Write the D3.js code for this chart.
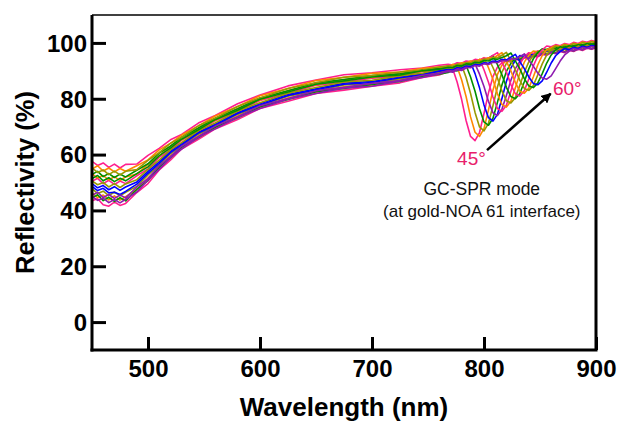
<!DOCTYPE html>
<html><head><meta charset="utf-8">
<script src="https://cdn.jsdelivr.net/npm/d3@7/dist/d3.min.js"></script>
<style>
html,body{margin:0;padding:0;background:#fff;}
svg{display:block;font-family:"Liberation Sans",Arial,Helvetica,sans-serif;}
</style></head>
<body>
<svg id="chart" width="618" height="425"></svg>
<script>
// ---- data ----
const wavelengths = [450,455,460,465,470,475,480,490,500,510,520,530,545,560,580,600,625,650,675,700,725,745,760,768,772,776,780,784,788,792,796,800,804,808,812,816,820,824,828,832,836,840,844,848,852,856,860,864,868,872,876,880,884,888,892,896,900];
const angles = [45,46,47,48,49,50,51,52,53,54,55,56,57,58,59,60];
const r45 = [43.5,44.2,42.0,41.5,43.0,41.8,42.5,46.4,49.6,54.5,58.0,62.0,65.5,69.2,72.6,76.5,79.1,81.9,83.1,84.5,85.7,87.6,88.5,89.8,90.8,86.0,79.8,72.2,66.5,65.0,67.9,74.7,82.1,87.9,91.3,92.9,93.5,93.2,94.1,93.8,94.7,94.4,95.3,95.0,95.9,95.6,96.5,96.1,96.9,96.5,97.4,96.9,97.7,97.3,98.1,97.7,98.2];
const r46 = [46.3,44.6,45.5,43.8,45.2,43.7,44.9,47.4,51.6,55.3,59.5,62.4,66.7,69.6,73.8,76.9,80.3,82.3,84.3,84.9,86.8,87.9,89.3,89.9,90.5,91.5,86.8,80.8,73.5,68.0,66.5,69.3,76.0,83.1,88.7,92.0,93.9,93.6,94.5,94.2,95.1,94.8,95.7,95.4,96.3,96.0,96.9,96.5,97.3,96.9,97.7,97.3,98.1,97.7,98.5,98.0,98.6];
const r47 = [47.8,46.1,46.9,45.3,46.6,45.2,46.5,48.6,52.7,56.2,60.3,63.0,67.3,70.2,74.4,77.5,80.9,82.8,84.9,85.4,87.2,88.3,89.7,90.3,90.0,91.1,92.1,87.6,81.9,75.1,69.9,68.5,71.2,77.5,84.2,89.5,92.7,94.5,94.2,95.1,94.8,95.7,95.4,96.3,96.0,96.9,96.6,97.4,97.0,97.8,97.4,98.2,97.8,98.6,98.2,98.9,98.5];
const r48 = [44.4,45.6,43.5,44.7,43.2,44.6,43.4,47.6,50.7,55.5,58.8,62.6,66.1,69.8,73.2,77.1,79.7,82.5,83.7,85.1,86.2,88.1,88.8,89.4,90.2,90.0,91.0,92.0,87.8,82.7,76.4,71.7,70.5,73.0,78.7,84.9,89.8,92.7,94.4,94.1,95.0,94.7,95.6,95.3,96.2,95.9,96.8,96.4,97.2,96.8,97.6,97.2,98.0,97.6,98.4,97.9,98.5];
const r49 = [49.6,48.1,48.9,47.4,48.5,47.2,48.4,50.2,54.0,57.4,61.2,63.9,68.1,70.9,75.1,78.2,81.6,83.6,85.6,86.2,87.9,88.9,90.1,90.7,90.4,91.3,91.0,92.1,93.1,89.0,83.9,77.8,73.2,72.0,74.4,80.1,86.2,91.0,93.8,95.5,95.2,96.1,95.8,96.7,96.4,97.3,97.0,97.8,97.4,98.2,97.8,98.6,98.2,99.0,98.6,99.3,99.0];
const r50 = [45.1,43.6,44.4,42.8,43.9,42.7,44.0,46.6,50.9,54.7,58.9,62.0,66.3,69.2,73.4,76.5,79.9,81.9,83.9,84.5,86.4,87.6,89.0,89.8,89.5,90.4,90.1,91.0,91.5,92.5,88.8,84.4,79.0,75.0,74.0,76.2,81.2,86.6,90.8,93.4,94.9,94.6,95.5,95.2,96.1,95.8,96.7,96.3,97.1,96.7,97.5,97.1,97.9,97.5,98.3,97.8,98.4];
const r51 = [50.4,51.5,49.6,50.8,49.3,50.5,49.6,52.4,54.9,59.0,61.8,65.1,68.5,72.1,75.5,79.4,82.0,84.8,86.0,87.4,88.1,89.8,90.3,91.1,90.9,91.7,91.5,92.2,92.1,93.1,94.1,90.4,85.9,80.6,76.5,75.5,77.7,82.7,88.1,92.4,95.0,96.5,96.2,97.1,96.8,97.7,97.4,98.2,97.8,98.6,98.2,99.0,98.6,99.4,99.0,99.7,99.3];
const r52 = [53.2,51.6,52.5,50.9,52.1,50.7,52.0,53.0,56.5,59.5,63.0,65.3,69.5,72.3,76.4,79.6,82.9,85.0,86.9,87.6,89.0,89.8,91.0,91.4,91.2,92.0,91.8,92.6,92.4,93.1,93.7,94.7,91.1,86.9,81.8,78.0,77.0,79.1,83.9,89.1,93.1,95.6,97.1,96.8,97.7,97.4,98.3,97.9,98.7,98.3,99.1,98.7,99.5,99.1,99.9,99.4,99.9];
const r53 = [50.6,49.2,50.0,48.4,49.6,48.2,49.5,51.0,54.7,58.0,61.7,64.3,68.5,71.3,75.5,78.6,82.0,84.0,86.0,86.6,88.2,89.1,90.4,90.9,90.7,91.5,91.3,92.1,91.9,92.6,92.5,93.5,94.5,91.2,87.4,82.8,79.3,78.5,80.4,84.8,89.5,93.2,95.5,96.9,96.6,97.5,97.2,98.0,97.6,98.4,98.0,98.8,98.4,99.2,98.8,99.5,99.2];
const r54 = [52.9,54.0,52.1,53.2,51.8,53.0,52.0,54.4,56.7,60.5,63.0,66.2,69.5,73.0,76.4,80.3,82.9,85.7,86.9,88.3,88.9,90.4,90.9,91.6,91.4,92.2,92.0,92.8,92.6,93.4,93.2,93.9,94.5,95.5,92.2,88.6,84.1,80.8,80.0,81.9,86.1,90.7,94.3,96.5,97.9,97.6,98.5,98.1,98.9,98.5,99.3,98.9,99.7,99.3,100.1,99.6,99.8];
const r55 = [57.6,56.1,57.0,55.4,56.6,55.2,56.5,56.6,59.7,62.2,65.3,67.2,71.3,74.0,78.2,81.3,84.6,86.7,88.6,89.3,90.4,91.0,92.0,92.3,92.1,92.9,92.7,93.5,93.3,94.1,93.9,94.6,94.5,95.5,96.5,93.2,89.6,85.1,81.8,81.0,82.9,87.1,91.7,95.3,97.5,98.9,98.6,99.4,99.0,99.8,99.4,100.2,99.8,100.6,100.2,100.9,100.5];
const r56 = [54.8,56.0,54.1,55.2,53.8,55.0,54.0,56.0,58.1,61.7,64.0,67.0,70.3,73.8,77.2,81.1,83.7,86.5,87.7,89.1,89.6,90.9,91.4,91.5,92.3,92.1,92.9,92.7,93.5,93.3,94.1,93.9,94.7,94.5,95.5,96.5,93.4,90.0,85.8,82.7,82.0,83.8,87.8,92.1,95.5,97.6,98.3,99.1,98.7,99.5,99.1,99.9,99.5,100.3,99.9,100.6,100.2];
const r57 = [55.2,53.6,54.5,52.8,54.1,52.7,54.0,54.6,57.9,60.7,64.0,66.2,70.3,73.0,77.2,80.3,83.7,85.7,87.7,88.3,89.6,90.3,91.4,91.8,91.6,92.4,92.2,93.0,92.8,93.6,93.4,94.2,94.0,94.8,94.6,95.6,96.6,93.6,90.4,86.6,83.7,83.0,84.7,88.5,92.5,95.7,97.7,98.9,98.5,99.3,98.9,99.7,99.3,100.1,99.7,100.4,100.0];
const r58 = [51.4,52.5,50.6,51.7,50.3,51.5,50.6,53.2,55.6,59.6,62.3,65.5,68.9,72.5,75.9,79.8,82.4,85.2,86.4,87.8,88.5,90.0,90.6,91.3,91.1,91.9,91.7,92.5,92.3,93.1,92.9,93.7,93.5,94.3,94.1,94.8,95.4,96.4,93.6,90.7,87.2,84.6,84.0,85.6,89.0,92.8,95.7,97.5,98.6,98.2,99.0,98.6,99.4,99.0,99.8,99.3,99.6];
const r59 = [48.6,47.1,47.9,46.3,46.5,45.7,46.8,49.4,53.3,56.8,60.7,63.5,67.7,70.5,74.7,77.8,81.2,83.2,85.2,85.8,87.5,88.6,89.9,90.5,90.3,91.1,90.9,91.7,91.5,92.3,92.1,92.9,92.7,93.5,93.3,94.1,93.9,94.9,95.9,93.3,90.8,87.8,85.5,85.0,86.4,89.5,92.8,95.4,96.9,98.0,97.6,98.4,98.0,98.8,98.4,99.1,98.8];
const r60 = [45.4,46.5,44.6,45.7,44.3,45.5,44.5,48.4,51.4,56.0,59.3,63.0,66.5,70.2,73.6,77.5,80.1,82.9,84.1,85.5,86.5,88.4,89.1,90.1,89.9,90.7,90.5,91.3,91.1,91.9,91.7,92.5,92.3,93.1,92.9,93.7,93.5,94.3,94.1,95.1,96.1,93.8,91.7,89.2,87.4,87.0,88.2,90.8,93.5,95.7,97.0,98.0,97.6,98.4,98.0,98.7,98.4];
const seriesValues = [r45,r46,r47,r48,r49,r50,r51,r52,r53,r54,r55,r56,r57,r58,r59,r60];
const seriesColors = ["#ff1f8e","#ff8800","#999900","#008f00","#0000ff","#8e1bb0","#ff1f8e","#ff8800","#999900","#008f00","#ff1f8e","#ff8800","#999900","#008f00","#0000ff","#8e1bb0"];
const xTicks = [500,600,700,800,900];
const yTicks = [0,20,40,60,80,100];

// ---- chart ----
const svg = d3.select("#chart");
const x = d3.scaleLinear().domain([450,900]).range([92,596]);
const y = d3.scaleLinear().domain([-10,110]).range([350,15]);

seriesValues.forEach((vals,i)=>{ if(vals.length!==wavelengths.length) console.warn("length mismatch", angles[i], vals.length); });

const clip = svg.append("defs").append("clipPath").attr("id","plotclip")
  .append("rect").attr("x",92).attr("y",15).attr("width",504).attr("height",335);

const line = d3.line().x(d=>x(d[0])).y(d=>y(d[1]));
const gLines = svg.append("g").attr("clip-path","url(#plotclip)");
seriesValues.forEach((vals,i)=>{
  gLines.append("path")
    .datum(wavelengths.map((w,j)=>[w,vals[j]]))
    .attr("fill","none")
    .attr("stroke",seriesColors[i])
    .attr("stroke-width",1.6)
    .attr("stroke-linejoin","round")
    .attr("d",line);
});

// frame
const [x0,x1] = x.range(); const [yb,yt] = y.range();
svg.append("line").attr("x1",x0).attr("x2",x1).attr("y1",yt).attr("y2",yt).attr("stroke","#000").attr("stroke-width",1.5);
svg.append("line").attr("x1",x1).attr("x2",x1).attr("y1",yt-0.75).attr("y2",yb).attr("stroke","#000").attr("stroke-width",3);

// axes
const xAxis = svg.append("g").attr("transform",`translate(0,${yb})`)
  .call(d3.axisBottom(x).tickValues(xTicks).tickSizeInner(-13).tickSizeOuter(0).tickPadding(0));
xAxis.select(".domain").attr("stroke-width",3).attr("d",`M${x0-1.5},0H${x1+1.5}`);
xAxis.selectAll(".tick line").attr("stroke-width",3);
xAxis.selectAll(".tick text").attr("font-size",24).attr("font-weight","bold").attr("dy",null).attr("y",27)
  .attr("font-family","'Liberation Sans',Arial,sans-serif").attr("fill","#000");

const yAxis = svg.append("g").attr("transform",`translate(${x0},0)`)
  .call(d3.axisLeft(y).tickValues(yTicks).tickSizeInner(-14).tickSizeOuter(0).tickPadding(0));
yAxis.select(".domain").attr("stroke-width",3).attr("d",`M0,${yt}V${yb+1.5}`);
yAxis.selectAll(".tick line").attr("stroke-width",3);
yAxis.selectAll(".tick text").attr("font-size",24).attr("font-weight","bold").attr("x",-5).attr("dy","0.35em")
  .attr("font-family","'Liberation Sans',Arial,sans-serif").attr("fill","#000");

// axis titles
svg.append("text").attr("x",(x0+x1)/2).attr("y",416).attr("text-anchor","middle")
  .attr("font-size",26).attr("font-weight","bold").text("Wavelength (nm)");
svg.append("text").attr("transform",`translate(34,${(yt+yb)/2}) rotate(-90)`).attr("text-anchor","middle")
  .attr("font-size",25.5).attr("font-weight","bold").text("Reflectivity (%)");

// annotations
const defs = svg.select("defs");
defs.append("marker").attr("id","arrowhead").attr("viewBox","0 0 10 10").attr("refX",9).attr("refY",5)
  .attr("markerWidth",4).attr("markerHeight",4).attr("orient","auto")
  .append("path").attr("d","M0,0L10,5L0,10Z").attr("fill","#000");
svg.append("line").attr("x1",x(802.7)).attr("y1",y(61.6)).attr("x2",x(859.5)).attr("y2",y(81.8))
  .attr("stroke","#000").attr("stroke-width",2.5).attr("marker-end","url(#arrowhead)");
const pink = "#e8206a";
svg.append("text").attr("x",x(776)).attr("y",y(56.3)).attr("font-size",19).attr("fill",pink).text("45°");
svg.append("text").attr("x",x(861.6)).attr("y",y(81.3)).attr("font-size",19).attr("fill",pink).text("60°");
svg.append("text").attr("x",x(798)).attr("y",y(45.5)).attr("text-anchor","middle").attr("font-size",17.5).attr("fill","#111").text("GC-SPR mode");
svg.append("text").attr("x",x(798)).attr("y",y(37.6)).attr("text-anchor","middle").attr("font-size",17).attr("fill","#111").text("(at gold-NOA 61 interface)");
</script>
</body></html>
